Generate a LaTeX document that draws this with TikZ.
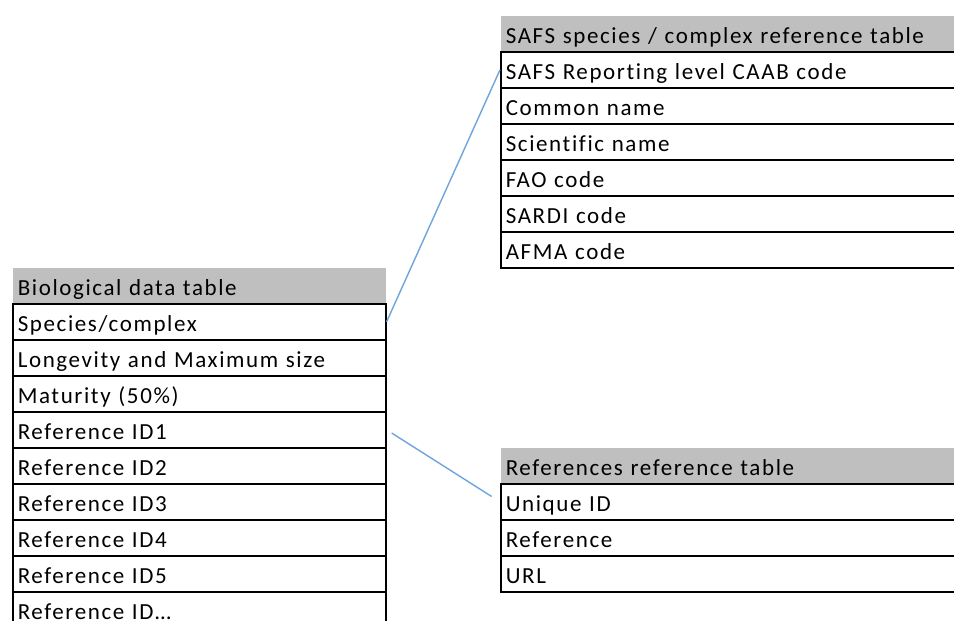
\documentclass[tikz,border=0pt]{standalone}
\usepackage{fontspec}
\setmainfont{Carlito}[LetterSpace=7, Ligatures=CommonOff]
\begin{document}
\begin{tikzpicture}[x=1pt,y=-1pt,
  cell/.style={draw=black, line width=1.6pt, fill=white, anchor=north west,
    inner xsep=5pt, inner ysep=0pt, minimum height=36pt, align=left,
    text height=21pt, text depth=1pt, font=\fontsize{23}{27}\selectfont},
  head/.style={cell, draw=none, fill=hdrgray},
  link/.style={draw=linkblue, line width=1.4pt}]
\definecolor{hdrgray}{RGB}{191,191,191}
\definecolor{linkblue}{RGB}{110,165,220}
\useasboundingbox (0,0) rectangle (954,621);
\clip (0,0) rectangle (954,621);
\fill[white] (0,0) rectangle (954,621);

% Biological data table
\begin{scope}[every node/.append style={text width=363pt}]
\node[head] (bh) at (12,267) {Biological data table};
\node[cell] (b1) at (12,303) {Species/complex};
\node[cell] (b2) at (12,339) {Longevity and Maximum size};
\node[cell] (b3) at (12,375) {Maturity (50\%)};
\node[cell] (b4) at (12,411) {Reference ID1};
\node[cell] (b5) at (12,447) {Reference ID2};
\node[cell] (b6) at (12,483) {Reference ID3};
\node[cell] (b7) at (12,519) {Reference ID4};
\node[cell] (b8) at (12,555) {Reference ID5};
\node[cell] (b9) at (12,591) {Reference ID\ldots};
\end{scope}

% SAFS species / complex reference table
\begin{scope}[every node/.append style={text width=480pt}]
\node[head] (sh) at (500,15) {SAFS species / complex reference table};
\node[cell] (s1) at (500,51) {SAFS Reporting level CAAB code};
\node[cell] (s2) at (500,87) {Common name};
\node[cell] (s3) at (500,123) {Scientific name};
\node[cell] (s4) at (500,159) {FAO code};
\node[cell] (s5) at (500,195) {SARDI code};
\node[cell] (s6) at (500,231) {AFMA code};
\end{scope}

% References reference table
\begin{scope}[every node/.append style={text width=480pt}]
\node[head] (rh) at (500,447) {References reference table};
\node[cell] (r1) at (500,483) {Unique ID};
\node[cell] (r2) at (500,519) {Reference};
\node[cell] (r3) at (500,555) {URL};
\end{scope}

% relations
\draw[link] (b1.east) -- (s1.west);
\draw[link, shorten <=6pt, shorten >=10pt] (b4.east) -- (r1.west);
\end{tikzpicture}
\end{document}
